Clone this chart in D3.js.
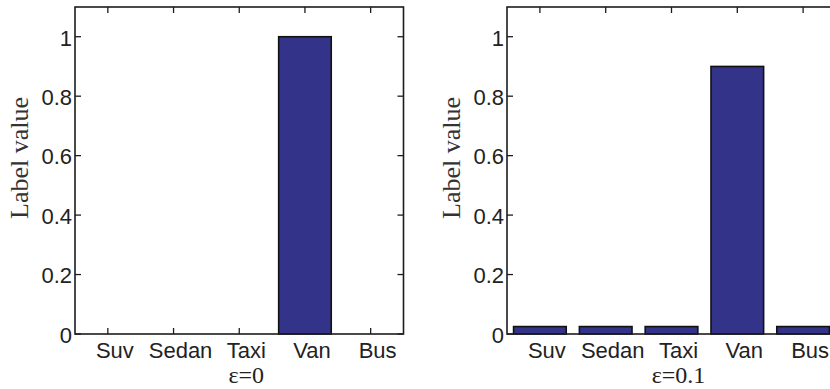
<!DOCTYPE html>
<html>
<head>
<meta charset="utf-8">
<script src="https://cdn.jsdelivr.net/npm/d3@7"></script>
<style>
  html, body { margin: 0; padding: 0; background: #fff; }
  svg { display: block; }
</style>
</head>
<body>
<svg id="chart" width="830" height="389"></svg>
<script>
// Vehicle classes on the x axis
const categories = ["Suv", "Sedan", "Taxi", "Van", "Bus"];
// Label values without smoothing (ε = 0)
const valuesEps0 = [0, 0, 0, 1, 0];
// Label values with label smoothing (ε = 0.1)
const valuesEps01 = [0.025, 0.025, 0.025, 0.9, 0.025];
// Y axis ticks
const yTicks = [0, 0.2, 0.4, 0.6, 0.8, 1];
const yLabels = ["0", "0.2", "0.4", "0.6", "0.8", "1"];
// Panel captions
const panelTitles = ["ε=0", "ε=0.1"];
const yTitle = "Label value";

const svg = d3.select("#chart");
const plotTop = 7, plotBottom = 334;
const panels = [
  { x0: 75, x1: 403.5, values: valuesEps0, title: panelTitles[0] },
  { x0: 507, x1: 836, values: valuesEps01, title: panelTitles[1] }
];

const y = d3.scaleLinear().domain([0, 1.1]).range([plotBottom, plotTop]);
const axisColor = "#1c1c1c";
const barFill = "#33338a";
const tickLen = 6;
const sans = "'Liberation Sans', Arial, sans-serif";
const serif = "'Liberation Serif', 'Times New Roman', serif";

panels.forEach(p => {
  const g = svg.append("g");
  const x = d3.scaleBand()
    .domain(categories)
    .range([p.x0, p.x1])
    .paddingInner(0.2)
    .paddingOuter(0.1);
  const cx = c => x(c) + x.bandwidth() / 2;

  // inward tick marks on all four sides
  const ticks = g.append("g").attr("stroke", axisColor).attr("stroke-width", 1.3);
  yTicks.forEach(t => {
    ticks.append("line").attr("x1", p.x0).attr("x2", p.x0 + tickLen)
      .attr("y1", y(t)).attr("y2", y(t));
    ticks.append("line").attr("x1", p.x1).attr("x2", p.x1 - tickLen)
      .attr("y1", y(t)).attr("y2", y(t));
  });
  categories.forEach(c => {
    ticks.append("line").attr("x1", cx(c)).attr("x2", cx(c))
      .attr("y1", plotBottom).attr("y2", plotBottom - tickLen);
    ticks.append("line").attr("x1", cx(c)).attr("x2", cx(c))
      .attr("y1", plotTop).attr("y2", plotTop + tickLen);
  });

  // bars
  g.append("g").selectAll("rect")
    .data(categories.map((c, i) => ({ c, v: p.values[i] })).filter(d => d.v > 0))
    .join("rect")
    .attr("x", d => x(d.c))
    .attr("width", x.bandwidth())
    .attr("y", d => y(d.v))
    .attr("height", d => y(0) - y(d.v))
    .attr("fill", barFill)
    .attr("stroke", "#111")
    .attr("stroke-width", 1.6);

  // axes box
  g.append("rect")
    .attr("x", p.x0).attr("y", plotTop)
    .attr("width", p.x1 - p.x0).attr("height", plotBottom - plotTop)
    .attr("fill", "none").attr("stroke", axisColor).attr("stroke-width", 1.6);

  // y tick labels
  g.append("g").selectAll("text")
    .data(yTicks)
    .join("text")
    .attr("x", p.x0 - 3)
    .attr("y", d => y(d))
    .attr("dy", "0.4em")
    .attr("text-anchor", "end")
    .attr("font-family", sans)
    .attr("font-size", 22)
    .attr("fill", "#222")
    .text((d, i) => yLabels[i]);

  // x tick labels
  g.append("g").selectAll("text")
    .data(categories)
    .join("text")
    .attr("x", d => cx(d) + 7)
    .attr("y", 358)
    .attr("text-anchor", "middle")
    .attr("font-family", sans)
    .attr("font-size", 22)
    .attr("fill", "#222")
    .text(d => d);

  // caption under the panel
  g.append("text")
    .attr("x", (p.x0 + p.x1) / 2 + 7)
    .attr("y", 383)
    .attr("text-anchor", "middle")
    .attr("font-family", serif)
    .attr("font-size", 24)
    .attr("fill", "#222")
    .text(p.title);

  // y axis title
  g.append("text")
    .attr("transform", `translate(${p.x0 - 47},158) rotate(-90)`)
    .attr("text-anchor", "middle")
    .attr("font-family", serif)
    .attr("font-size", 26)
    .attr("fill", "#333")
    .text(yTitle);
});
</script>
</body>
</html>
